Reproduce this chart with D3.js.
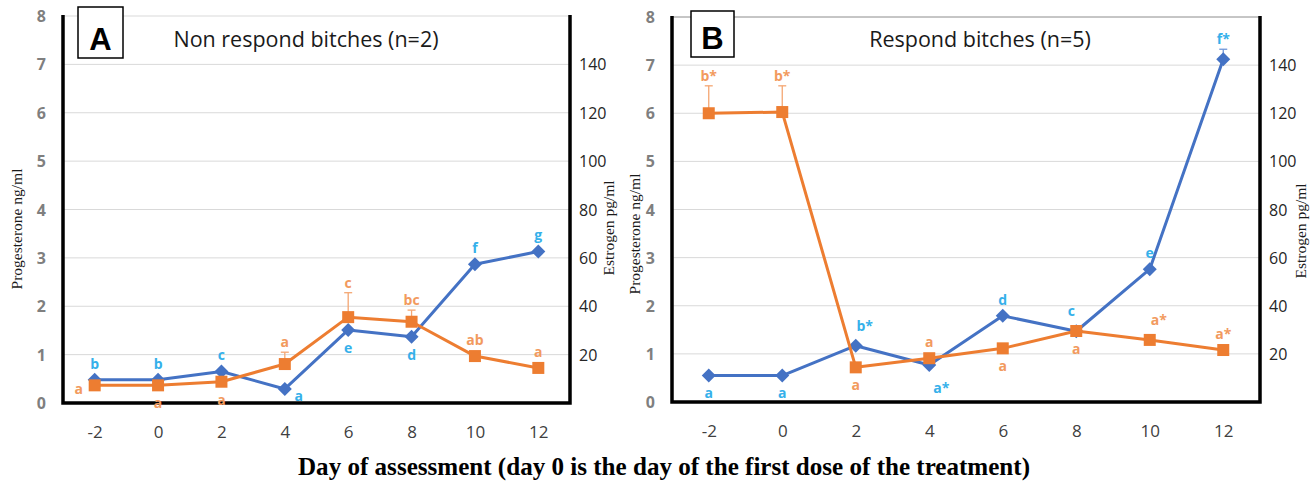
<!DOCTYPE html>
<html>
<head>
<meta charset="utf-8">
<script src="https://cdn.jsdelivr.net/npm/d3@7"></script>
<style>
  body { margin: 0; background: #fff; }
  svg { display: block; }
</style>
</head>
<body>
<svg id="chart" width="1314" height="481"></svg>
<script>
// x categories: day of assessment
const days = ["-2", "0", "2", "4", "6", "8", "10", "12"];

// panel A – non respond bitches (n=2)
const progA = [0.48, 0.48, 0.65, 0.29, 1.51, 1.37, 2.87, 3.13];      // ng/ml
const progAErr = [0, 0, 0, 0, 0, 0, 0, 0];
const progALetters = ["b", "b", "c", "a", "e", "d", "f", "g"];
const progASide = ["t", "t", "t", "r", "b", "b", "t", "t"];
const estA = [7.3, 7.3, 8.8, 16.1, 35.5, 33.6, 19.4, 14.5];          // pg/ml
const estAErr = [0, 0, 0, 4.9, 10.1, 4.8, 0, 0];
const estALetters = ["a", "a", "a", "a", "c", "bc", "ab", "a"];
const estASide = ["l", "b", "b", "t", "t", "t", "t", "t"];

// panel B – respond bitches (n=5)
const progB = [0.55, 0.55, 1.17, 0.77, 1.79, 1.47, 2.76, 7.12];
const progBErr = [0, 0, 0, 0, 0, 0, 0, 0.21];
const progBLetters = ["a", "a", "b*", "a*", "d", "c", "e", "f*"];
const progBSide = ["b", "b", "tr", "br", "t", "tl", "t", "t"];
const estB = [120, 120.5, 14.4, 18.2, 22.3, 29.5, 25.8, 21.6];
const estBErr = [11.4, 10.9, 0, 0, 0, 0, 0, 0];
const estBLetters = ["b*", "b*", "a", "a", "a", "a", "a*", "a*"];
const estBSide = ["t", "t", "b", "t", "b", "b", "tr", "t"];

const progTicks = [0, 1, 2, 3, 4, 5, 6, 7, 8];
const estTicks = [20, 40, 60, 80, 100, 120, 140];

const blue = "#4472c4", orange = "#ed7d31";
const blueText = "#35b0ea", orangeText = "#f29a5e";
const sans = "'Open Sans', sans-serif";
const serif = "'Liberation Serif', 'Times New Roman', serif";

const svg = d3.select("#chart");

const offsets = {
    t: [0, -16], b: [0, 18], l: [-16, 4], r: [14, 7],
    tr: [9, -20], br: [12, 23], tl: [-5, -20]
};

function drawPanel(p) {
    const g = svg.append("g");

    const x = d3.scalePoint().domain(days).range([p.left, p.right]).padding(0.5);
    const y = d3.scaleLinear().domain([0, 8]).range([p.bottom, p.top]);
    const yE = d3.scaleLinear().domain([0, 160]).range([p.bottom, p.top]);

    // gridlines
    g.append("g").selectAll("line")
        .data(progTicks.slice(1))
        .join("line")
        .attr("x1", p.left).attr("x2", p.right)
        .attr("y1", d => y(d)).attr("y2", d => y(d))
        .attr("stroke", d => (d === 8 && p.topBorder) ? "#8c8c8c" : "#d9d9d9")
        .attr("stroke-width", 1);

    // left axis (progesterone)
    const la = g.append("g")
        .attr("transform", `translate(${p.left - 14},0)`)
        .call(d3.axisLeft(y).tickValues(progTicks).tickSize(0).tickFormat(d3.format("d")));
    la.select(".domain").remove();
    la.selectAll("text")
        .attr("font-family", sans).attr("font-size", 16).attr("font-weight", "bold")
        .attr("fill", "#7f7f7f").attr("dy", "0.35em");

    // right axis (estrogen)
    const ra = g.append("g")
        .attr("transform", `translate(${p.right + 6},0)`)
        .call(d3.axisRight(yE).tickValues(estTicks).tickSize(0).tickFormat(d3.format("d")));
    ra.select(".domain").remove();
    ra.selectAll("text")
        .attr("font-family", sans).attr("font-size", 16)
        .attr("fill", "#262626").attr("dy", "0.35em");

    // bottom axis
    const ba = g.append("g")
        .attr("transform", `translate(0,${p.bottom + 20})`)
        .call(d3.axisBottom(x).tickSize(0));
    ba.select(".domain").remove();
    ba.selectAll("text")
        .attr("font-family", sans).attr("font-size", 17)
        .attr("fill", "#404040").attr("dy", "0.71em");

    // thick frame lines
    g.append("path")
        .attr("d", `M${p.left},${p.top - 1}V${p.bottom}H${p.right}V${p.top - 1}`)
        .attr("fill", "none").attr("stroke", "#000").attr("stroke-width", 3.5);

    // axis titles
    g.append("text")
        .attr("transform", `translate(${p.progTitle[0]},${p.progTitle[1]}) rotate(-90)`)
        .attr("text-anchor", "middle")
        .attr("font-family", serif).attr("font-size", 15.5).attr("fill", "#1a1a1a")
        .text("Progesterone ng/ml");
    g.append("text")
        .attr("transform", `translate(${p.estTitle[0]},${p.estTitle[1]}) rotate(-90)`)
        .attr("text-anchor", "middle")
        .attr("font-family", serif).attr("font-size", 15.5).attr("fill", "#1a1a1a")
        .text("Estrogen pg/ml");

    // panel letter box and title
    g.append("rect")
        .attr("x", p.box[0]).attr("y", p.box[1]).attr("width", p.box[2]).attr("height", p.box[3])
        .attr("fill", "#fff").attr("stroke", "#000").attr("stroke-width", 1.5);
    g.append("text")
        .attr("x", p.box[0] + p.box[2] / 2).attr("y", p.box[1] + p.box[3] - 8)
        .attr("text-anchor", "middle")
        .attr("font-family", "'Liberation Sans', Arial, sans-serif")
        .attr("font-size", 31).attr("font-weight", "bold")
        .text(p.letter);
    g.append("text")
        .attr("x", p.titleX).attr("y", 47)
        .attr("text-anchor", "middle")
        .attr("font-family", sans).attr("font-size", 21.5).attr("fill", "#1a1a1a")
        .text(p.title);

    const series = [
        { vals: p.prog, err: p.progErr, letters: p.progLetters, side: p.progSide,
          scale: y, color: blue, errColor: "#6f96d8", text: blueText, shape: "diamond" },
        { vals: p.est, err: p.estErr, letters: p.estLetters, side: p.estSide,
          scale: yE, color: orange, errColor: "#f4a672", text: orangeText, shape: "square" }
    ];

    series.forEach(s => {
        const pts = days.map((d, i) => ({ d, v: s.vals[i], e: s.err[i], l: s.letters[i], side: s.side[i] }));

        // error bars (upper only)
        const eb = g.append("g").selectAll("g")
            .data(pts.filter(q => q.e > 0))
            .join("g");
        eb.append("line")
            .attr("x1", q => x(q.d)).attr("x2", q => x(q.d))
            .attr("y1", q => s.scale(q.v)).attr("y2", q => s.scale(q.v + q.e))
            .attr("stroke", s.errColor).attr("stroke-width", 1.3);
        eb.append("line")
            .attr("x1", q => x(q.d) - 4).attr("x2", q => x(q.d) + 4)
            .attr("y1", q => s.scale(q.v + q.e)).attr("y2", q => s.scale(q.v + q.e))
            .attr("stroke", s.errColor).attr("stroke-width", 1.3);

        g.append("path")
            .datum(pts)
            .attr("fill", "none")
            .attr("stroke", s.color)
            .attr("stroke-width", 3)
            .attr("stroke-linejoin", "round")
            .attr("d", d3.line().x(q => x(q.d)).y(q => s.scale(q.v)));

        if (s.shape === "diamond") {
            g.append("g").selectAll("path")
                .data(pts)
                .join("path")
                .attr("d", q => {
                    const cx = x(q.d), cy = s.scale(q.v), r = 7;
                    return `M${cx},${cy - r}L${cx + r},${cy}L${cx},${cy + r}L${cx - r},${cy}Z`;
                })
                .attr("fill", s.color);
        } else {
            g.append("g").selectAll("rect")
                .data(pts)
                .join("rect")
                .attr("x", q => x(q.d) - 6).attr("y", q => s.scale(q.v) - 6)
                .attr("width", 12).attr("height", 12)
                .attr("fill", s.color);
        }

        // significance letters
        g.append("g").selectAll("text")
            .data(pts)
            .join("text")
            .attr("x", q => x(q.d) + offsets[q.side][0])
            .attr("y", q => {
                let yy = s.scale(q.v) + offsets[q.side][1];
                if (q.side[0] === "t" && q.e > 0) yy = Math.min(yy, s.scale(q.v + q.e) - 10);
                return yy;
            })
            .attr("dy", "0.35em")
            .attr("text-anchor", "middle")
            .attr("font-family", sans).attr("font-size", 14).attr("font-weight", "bold")
            .attr("fill", s.text)
            .text(q => q.l);
    });
}

drawPanel({
    left: 63, right: 570, top: 16, bottom: 403,
    prog: progA, progErr: progAErr, progLetters: progALetters, progSide: progASide,
    est: estA, estErr: estAErr, estLetters: estALetters, estSide: estASide,
    letter: "A", box: [78, 7, 45, 51], title: "Non respond bitches (n=2)", titleX: 306,
    progTitle: [22, 229], estTitle: [614, 228],
    topBorder: false
});

drawPanel({
    left: 672, right: 1260, top: 17, bottom: 402,
    prog: progB, progErr: progBErr, progLetters: progBLetters, progSide: progBSide,
    est: estB, estErr: estBErr, estLetters: estBLetters, estSide: estBSide,
    letter: "B", box: [691, 11, 43, 46], title: "Respond bitches (n=5)", titleX: 980,
    progTitle: [640, 234], estTitle: [1306, 231],
    topBorder: true
});

svg.append("text")
    .attr("x", 664).attr("y", 475)
    .attr("text-anchor", "middle")
    .attr("font-family", serif).attr("font-size", 25).attr("font-weight", "bold")
    .attr("fill", "#000")
    .attr("textLength", 732).attr("lengthAdjust", "spacingAndGlyphs")
    .text("Day of assessment (day 0 is the day of the first dose of the treatment)");
</script>
</body>
</html>
